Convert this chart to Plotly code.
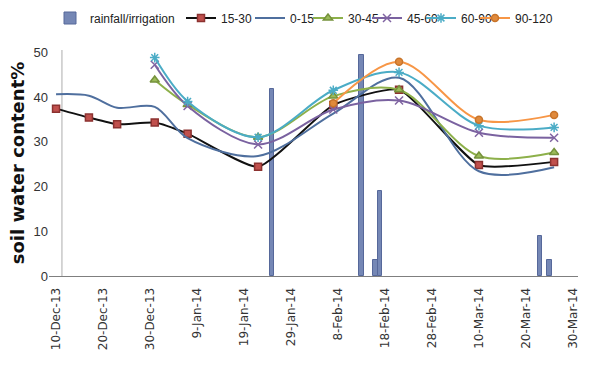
import plotly.graph_objects as go

dates = ["2013-12-10", "2013-12-17", "2013-12-23", "2013-12-31", "2014-01-07",
         "2014-01-22", "2014-02-07", "2014-02-21", "2014-03-10", "2014-03-26"]
N = None
d15_30 = [37.4, 35.4, 33.9, 34.3, 31.8, 24.4, 38.2, 41.6, 24.8, 25.5]
d0_15 = [40.6, 40.3, 37.6, 37.8, 30.8, 26.8, 36.3, 44.3, 23.4, 24.3]
d30_45 = [N, N, N, 43.8, 38.3, 31.0, 40.2, 41.6, 26.8, 27.6]
d45_60 = [N, N, N, 47.2, 38.0, 29.4, 37.2, 39.2, 32.0, 30.9]
d60_90 = [N, N, N, 48.8, 39.0, 31.0, 41.5, 45.5, 33.6, 33.2]
d90_120 = [N, N, N, N, N, N, 38.6, 47.9, 34.9, 36.0]

rain_dates = ["2014-01-25", "2014-02-13", "2014-02-16", "2014-02-17", "2014-03-23", "2014-03-25"]
rain_vals = [41.8, 49.4, 3.6, 18.9, 9.0, 3.6]

tick_labels_fmt = "%-d-%b-%y"

W, H = 598, 383
fig = go.Figure()
fig.add_trace(go.Bar(x=rain_dates, y=rain_vals, name="rainfall/irrigation",
                     width=0.95 * 86400000, legend="legend",
                     marker=dict(color="#7587b5", line=dict(color="#56689a", width=1))))

def add_line(y, name, lcolor, symbol, mcolor, mline, leg, size=7, smooth=0.9):
    fig.add_trace(go.Scatter(
        x=dates, y=y, name=name, mode="lines+markers" if symbol else "lines",
        line=dict(color=lcolor, width=2, shape="spline", smoothing=smooth),
        marker=dict(symbol=symbol or "circle", size=size, color=mcolor,
                    line=dict(color=mline, width=1.5)),
        connectgaps=False, cliponaxis=False, legend=leg))

add_line(d15_30, "15-30", "#111111", "square", "#c0504d", "#8c3230", "legend2", 7, 0.5)
add_line(d0_15, "0-15", "#4f6f9e", None, None, None, "legend3")
add_line(d30_45, "30-45", "#8db04a", "triangle-up", "#9bbb59", "#76923c", "legend4", 8)
add_line(d45_60, "45-60", "#7a62a0", "x-thin-open", "#8064a2", "#8064a2", "legend5", 8)
add_line(d60_90, "60-90", "#4bacc6", "asterisk-open", "#4bacc6", "#4bacc6", "legend6", 8)
add_line(d90_120, "90-120", "#f79646", "circle", "#e08a3c", "#c8742a", "legend7", 7)

legend_px = [50, 181, 250, 308, 367, 421, 475]
legs = {}
for i, px in enumerate(legend_px):
    key = "legend" if i == 0 else f"legend{i+1}"
    legs[key] = dict(orientation="h", xref="container", yref="container",
                     x=px / W, y=1 - 18 / H, xanchor="left", yanchor="middle",
                     font=dict(family="Liberation Sans", size=12, color="#222"),
                     itemwidth=30, bgcolor="rgba(0,0,0,0)", borderwidth=0)

fig.update_layout(
    width=W, height=H,
    margin=dict(l=49, r=20, t=50, b=107),
    paper_bgcolor="white", plot_bgcolor="white",
    showlegend=True,
    bargap=0,
    xaxis=dict(type="date", range=["2013-12-08 12:00", "2014-03-31 02:00"],
               tick0="2013-12-10", dtick=10 * 86400000, tickformat=tick_labels_fmt,
               tickangle=-90, showgrid=False, zeroline=False, automargin=False,
               showline=True, linecolor="#7f7f7f", linewidth=1,
               ticks="", ticklabelstandoff=6,
               tickfont=dict(family="DejaVu Sans", size=12, color="#333")),
    yaxis=dict(range=[0, 50.5], tickvals=[0, 10, 20, 30, 40, 50], showgrid=False,
               zeroline=False, showline=False, ticks="", automargin=False,
               tickfont=dict(family="Liberation Sans", size=13, color="#333")),
    shapes=[dict(type="line", xref="x", yref="y", x0="2013-12-11 06:00", x1="2013-12-11 06:00",
                 y0=0, y1=50.7, line=dict(color="#c8c8c8", width=1.5), layer="below")],
    annotations=[dict(text="<b>soil water content%</b>", textangle=-90, xref="paper", yref="paper",
                      x=-0.06, y=0.5, xanchor="center", yanchor="middle", showarrow=False,
                      font=dict(family="DejaVu Sans", size=18, color="#111"))],
    **legs,
)

fig.write_html("out.html", config={"displayModeBar": False},
               post_script="document.body.style.margin='0';document.body.style.overflow='hidden';")
